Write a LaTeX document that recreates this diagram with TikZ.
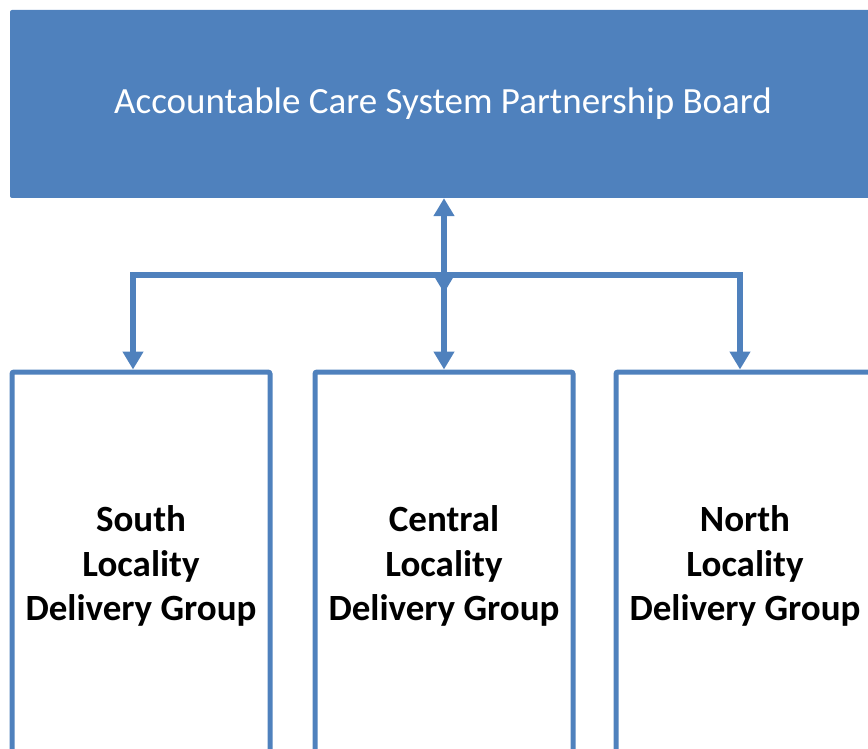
\documentclass[tikz,border=0pt]{standalone}
\usepackage{fontspec}
\setmainfont{Carlito}
\usetikzlibrary{arrows.meta}

\definecolor{acsblue}{HTML}{4F81BD}

\begin{document}
\begin{tikzpicture}[x=1pt, y=-1pt, >={Triangle[width=20pt,length=18pt]},
	board/.style={fill=acsblue, rounded corners=2pt, text=white, inner sep=0pt,
		font=\fontsize{37}{44}\selectfont, minimum width=866pt, minimum height=188pt},
	group/.style={draw=acsblue, line width=5pt, rounded corners=2pt, inner sep=0pt,
		align=center, font=\fontsize{37}{44.5}\selectfont\bfseries,
		minimum width=258pt, minimum height=388pt},
	link/.style={draw=acsblue, line width=5.5pt}]
	\useasboundingbox (0,0) rectangle (868,749);
	\clip (0,0) rectangle (868,749);

	%%% Блоки
	\node[board] (board) at (443,104) {Accountable Care System Partnership Board};

	\node[group] (south)   at (141,566) {South\\Locality\\Delivery Group};
	\node[group] (central) at (444,566) {Central\\Locality\\Delivery Group};
	\node[group] (north)   at (745,566) {North\\Locality\\Delivery Group};

	%%% Связи
	\coordinate (split) at (444,275);
	\coordinate (hub)   at (444,293);
	\coordinate (busL)  at (133,275);
	\coordinate (busR)  at (740,275);

	\draw[link, <->] (board.south -| split) -- (hub);
	\draw[link, ->] (split) -| (busL |- south.north);
	\draw[link, ->] (split) -| (busR |- north.north);
	\draw[link, ->] (split) -- (central.north);
\end{tikzpicture}
\end{document}
